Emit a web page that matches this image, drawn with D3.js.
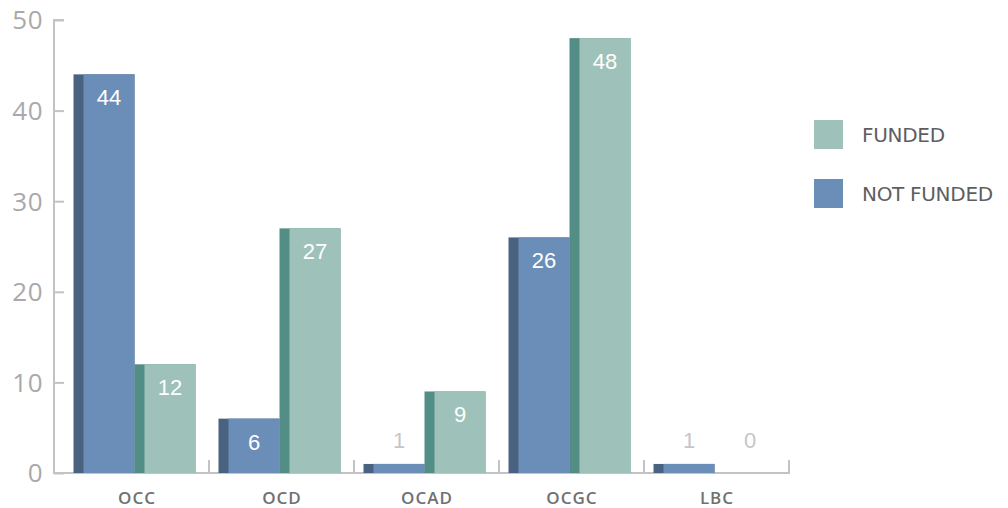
<!doctype html>
<html>
<head>
<meta charset="UTF-8">
<title>Funded vs not funded</title>
<script src="https://cdn.jsdelivr.net/npm/d3@7"></script>
<style>
  body { margin: 0; background: #fff; }
  svg { display: block; font-family: "Open Sans", Lato, sans-serif; }
</style>
</head>
<body>
<svg id="chart" width="1008" height="508"></svg>
<script>
// data
var categories = ["OCC", "OCD", "OCAD", "OCGC", "LBC"];
var series = ["NOT FUNDED", "FUNDED"];
var notFunded = [44, 6, 1, 26, 1];
var funded = [12, 27, 9, 48, 0];
var yTicks = [0, 10, 20, 30, 40, 50];
var legendOrder = ["FUNDED", "NOT FUNDED"];

var colors = {
  "NOT FUNDED": { main: "#6b8eb9", side: "#48627f" },
  "FUNDED": { main: "#9ec2b9", side: "#528e86" }
};

var svg = d3.select("#chart");

var x = d3.scaleBand().domain(categories).range([64, 789]).padding(0);
var xs = d3.scaleBand().domain(series).range([9.5, 131.5]).padding(0);
var y = d3.scaleLinear().domain([0, 50]).range([473, 20]);

var rows = [];
categories.forEach(function (c, i) {
  rows.push({ cat: c, s: "NOT FUNDED", v: notFunded[i] });
  rows.push({ cat: c, s: "FUNDED", v: funded[i] });
});

// axes
var axisColor = "#c3c3c5";
var yAxis = svg.append("g").attr("transform", "translate(54,0)")
  .call(d3.axisRight(y).tickValues(yTicks).tickSize(10).tickFormat(""));
yAxis.select(".domain").attr("stroke", axisColor).attr("stroke-width", 2)
  .attr("d", "M10," + y(50) + "H0V" + y(0));
yAxis.selectAll(".tick line").attr("stroke", axisColor).attr("stroke-width", 2);

svg.selectAll(".ylab").data(yTicks).enter().append("text")
  .attr("class", "ylab")
  .attr("x", 43).attr("y", function (d) { return y(d); })
  .attr("dy", "0.36em")
  .attr("text-anchor", "end")
  .attr("font-size", 26)
  .attr("letter-spacing", "0.5px")
  .attr("fill", "#a9a9ab")
  .text(function (d) { return d; });

// bottom axis with separators
var xAxis = svg.append("g").attr("transform", "translate(0," + y(0) + ")");
xAxis.append("line").attr("x1", 53).attr("x2", 790)
  .attr("stroke", axisColor).attr("stroke-width", 2);
xAxis.selectAll(".sep").data(categories).enter().append("line")
  .attr("class", "sep")
  .attr("x1", function (d) { return x(d) + x.bandwidth(); })
  .attr("x2", function (d) { return x(d) + x.bandwidth(); })
  .attr("y1", 0).attr("y2", -13)
  .attr("stroke", axisColor).attr("stroke-width", 2);

svg.selectAll(".xlab").data(categories).enter().append("text")
  .attr("class", "xlab")
  .attr("x", function (d) { return x(d) + x.bandwidth() / 2 + 0.5; })
  .attr("y", 504)
  .attr("text-anchor", "middle")
  .attr("font-size", 17)
  .attr("font-weight", 600)
  .attr("letter-spacing", "1px")
  .attr("fill", "#707072")
  .text(function (d) { return d; });

// bars
var side = 10;
var bars = svg.selectAll(".bar").data(rows).enter().append("g").attr("class", "bar");

bars.append("rect")
  .attr("x", function (d) { return x(d.cat) + xs(d.s); })
  .attr("y", function (d) { return y(d.v); })
  .attr("width", xs.bandwidth())
  .attr("height", function (d) { return y(0) - y(d.v); })
  .attr("fill", function (d) { return colors[d.s].side; });

bars.append("rect")
  .attr("x", function (d) { return x(d.cat) + xs(d.s) + side; })
  .attr("y", function (d) { return y(d.v); })
  .attr("width", xs.bandwidth() - side)
  .attr("height", function (d) { return y(0) - y(d.v); })
  .attr("fill", function (d) { return colors[d.s].main; });

// value labels
bars.append("text")
  .attr("x", function (d) { return x(d.cat) + xs(d.s) + side + (xs.bandwidth() - side) / 2; })
  .attr("y", function (d) {
    var h = y(0) - y(d.v);
    return h > 40 ? y(d.v) + 23 : y(0) - 33;
  })
  .attr("dy", "0.36em")
  .attr("text-anchor", "middle")
  .attr("font-family", "'Liberation Sans', Arial, sans-serif")
  .attr("font-size", 22)
  .attr("fill", function (d) { return (y(0) - y(d.v)) > 40 ? "#ffffff" : "#c6c6c8"; })
  .text(function (d) { return d.v; });

// legend
var legend = svg.selectAll(".leg").data(legendOrder).enter().append("g")
  .attr("class", "leg")
  .attr("transform", function (d, i) { return "translate(814," + (120 + i * 59) + ")"; });
legend.append("rect").attr("width", 29).attr("height", 29)
  .attr("fill", function (d) { return colors[d].main; });
legend.append("text").attr("x", 48).attr("y", 14.5).attr("dy", "0.36em")
  .attr("font-family", "'DejaVu Sans', sans-serif")
  .attr("font-size", 20)
  .attr("fill", "#5e5e60")
  .attr("letter-spacing", "-0.3px")
  .text(function (d) { return d; });
</script>
</body>
</html>
